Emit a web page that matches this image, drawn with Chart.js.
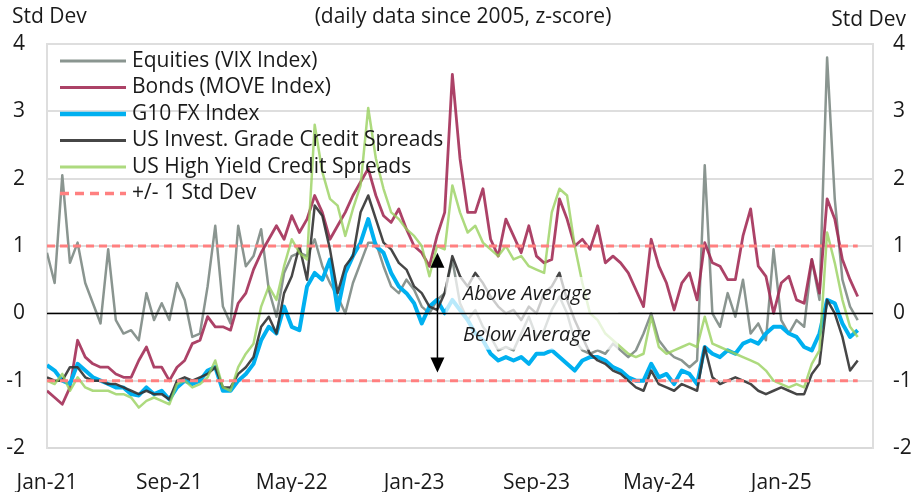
<!DOCTYPE html>
<html>
<head>
<meta charset="utf-8">
<script src="https://cdn.jsdelivr.net/npm/chart.js@4.4.1/dist/chart.umd.min.js"></script>
<style>
  html, body { margin: 0; padding: 0; background: #fff; }
  #wrap { width: 913px; height: 492px; }
</style>
</head>
<body>
<div id="wrap"><canvas id="chart" width="913" height="492"></canvas></div>
<script>
// x = half-month steps since Jan-21 (0 = 1 Jan 2021, 108 = 1 Jul 2025)
const tickPos = [0, 16, 32, 48, 64, 80, 96];
const tickLabels = ["Jan-21", "Sep-21", "May-22", "Jan-23", "Sep-23", "May-24", "Jan-25"];

// z-scores, one value per half month (Jan-21 .. mid Jun-25)
const vix = [
  0.9, 0.45, 2.05, 0.75, 1.05, 0.45, 0.15, -0.15, 0.95, -0.1, -0.3, -0.25, -0.4, 0.3, -0.1, 0.15, -0.1, 0.45, 0.2, -0.35, -0.3, 0.4, 1.3, 0.1,
  -0.15, 1.3, 0.7, 0.85, 1.25, 0.35, -0.05, 0.6, 0.85, 0.9, 0.85, 1.1, 0.7, 0.45, 0.25, 0.0, 0.45, 0.75, 1.05, 1.05, 0.7, 0.4, 0.3, 0.5,
  0.35, 0.1, 0.0, 0.2, 0.3, 0.8, 0.15, -0.1, 0.05, -0.2, -0.35, -0.55, -0.5, -0.55, -0.3, -0.05, -0.35, -0.25, 0.05, 0.25, 0.0, -0.4, -0.55, -0.6,
  -0.55, -0.6, -0.45, -0.55, -0.65, -0.55, -0.3, 0.0, -0.4, -0.55, -0.65, -0.7, -0.8, -0.7, 2.2, 0.0, -0.2, 0.3, -0.05, 0.5, -0.3, -0.15, -0.4, 0.95,
  -0.1, -0.3, -0.1, -0.2, 0.8, 0.2, 3.8, 1.7, 0.5, 0.1, -0.1
];
const move = [
  -1.15, -1.25, -1.35, -1.1, -0.4, -0.65, -0.75, -0.8, -0.8, -0.9, -0.95, -0.95, -0.7, -0.5, -0.8, -0.8, -1.0, -0.8, -0.7, -0.45, -0.4, -0.05, -0.2, -0.2,
  -0.25, 0.15, 0.3, 0.65, 0.9, 1.1, 1.3, 1.1, 1.45, 1.2, 1.4, 1.75, 1.5, 1.1, 1.3, 1.5, 1.75, 1.95, 2.15, 1.75, 1.45, 1.35, 1.55, 1.25,
  1.0, 0.9, 0.7, 1.15, 1.5, 3.55, 2.3, 1.5, 1.5, 1.85, 1.1, 0.85, 1.4, 1.15, 0.9, 1.3, 0.85, 0.75, 0.8, 1.7, 1.4, 1.0, 1.1, 0.95,
  1.3, 0.75, 0.85, 0.75, 0.6, 0.35, 0.1, 1.1, 0.7, 0.45, 0.05, 0.45, 0.6, 0.2, 1.05, 0.75, 0.7, 0.5, 0.5, 1.15, 1.55, 0.7, 0.55, 0.0,
  0.45, 0.55, 0.2, 0.15, 0.8, 0.3, 1.7, 1.4, 0.8, 0.5, 0.25
];
const fx = [
  -0.77, -0.85, -1.0, -1.05, -0.75, -0.85, -0.95, -1.0, -1.05, -1.1, -1.1, -1.2, -1.22, -1.1, -1.2, -1.15, -1.28, -1.1, -1.0, -1.05, -1.0, -0.85, -0.8, -1.15,
  -1.15, -1.0, -0.9, -0.75, -0.4, -0.2, -0.3, 0.1, -0.2, -0.25, 0.4, 0.6, 0.5, 0.8, 0.05, 0.6, 0.85, 1.05, 1.4, 1.0, 0.9, 0.6, 0.4, 0.3,
  0.15, -0.15, 0.1, 0.2, 0.0, 0.2, 0.05, -0.1, -0.3, -0.4, -0.6, -0.7, -0.65, -0.7, -0.65, -0.75, -0.6, -0.6, -0.55, -0.65, -0.75, -0.85, -0.7, -0.65,
  -0.65, -0.7, -0.8, -0.85, -0.95, -1.0, -1.0, -0.75, -0.95, -0.9, -1.05, -0.85, -0.9, -1.05, -0.5, -0.6, -0.65, -0.55, -0.6, -0.45, -0.4, -0.45, -0.3, -0.2,
  -0.2, -0.3, -0.35, -0.5, -0.55, -0.3, 0.2, 0.15, -0.15, -0.35, -0.25
];
const ig = [
  -0.95, -1.0, -1.0, -0.8, -0.8, -0.95, -1.0, -1.0, -1.05, -1.05, -1.1, -1.15, -1.2, -1.15, -1.2, -1.2, -1.28, -1.0, -0.95, -1.0, -0.95, -0.9, -0.8, -1.1,
  -1.1, -0.9, -0.8, -0.65, -0.2, -0.05, -0.3, 0.3, 0.55, 1.0, 0.5, 1.6, 1.45, 0.95, 0.3, 0.7, 0.85, 1.5, 1.75, 1.4, 1.05, 0.95, 0.75, 0.65,
  0.4, 0.3, 0.1, 0.05, 0.3, 0.85, 0.55, 0.4, 0.6, 0.45, 0.25, 0.1, 0.0, 0.05, -0.1, 0.1, 0.0, 0.3, 0.4, 0.6, 0.2, -0.1, -0.35, -0.6,
  -0.7, -0.75, -0.85, -0.9, -1.0, -1.1, -1.15, -0.85, -1.05, -1.1, -1.15, -1.05, -1.1, -1.15, -0.5, -0.95, -1.05, -1.0, -0.95, -1.0, -1.05, -1.15, -1.2, -1.15,
  -1.1, -1.15, -1.2, -1.2, -0.9, -0.75, 0.2, 0.0, -0.35, -0.85, -0.7
];
const hy = [
  -1.0, -1.05, -0.9, -1.15, -0.95, -1.1, -1.15, -1.15, -1.15, -1.2, -1.2, -1.25, -1.4, -1.3, -1.25, -1.3, -1.35, -1.05, -1.0, -1.1, -1.05, -0.95, -0.7, -1.1,
  -1.15, -0.8, -0.6, -0.45, 0.1, 0.4, 0.2, 0.7, 1.1, 0.9, 0.8, 2.8, 2.1, 1.7, 1.6, 1.15, 1.55, 1.9, 3.05, 2.3, 1.85, 1.5, 1.4, 1.25,
  1.15, 1.0, 0.55, 1.0, 0.95, 1.9, 1.5, 1.2, 1.3, 1.05, 0.95, 0.85, 1.0, 0.8, 0.85, 0.7, 0.65, 0.6, 1.5, 1.85, 1.75, 1.0, 0.45, 0.0,
  -0.1, -0.3, -0.4, -0.5, -0.6, -0.65, -0.6, -0.05, -0.5, -0.6, -0.55, -0.5, -0.45, -0.5, -0.05, -0.45, -0.5, -0.55, -0.6, -0.65, -0.7, -0.75, -0.85, -1.0,
  -1.05, -1.1, -1.05, -1.1, -0.75, -0.55, 1.2, 0.75, 0.2, -0.2, -0.35
];
const bandHi = vix.map(() => 1);
const bandLo = vix.map(() => -1);

// annotation placement in data units
const boxX = [52.1, 74.7];
const boxY = [-0.54, 0.54];
const arrowX = 51.05;
const arrowY = [-0.88, 0.9];
const noteX = 54.4;

const FONT = "'Open Sans'";
const pts = arr => arr.map((v, i) => ({ x: i, y: v }));

const overlay = {
  id: "overlay",
  afterDatasetsDraw(chart) {
    const { ctx, chartArea: a, scales } = chart;
    const x = scales.x, y = scales.y;
    ctx.save();

    // faded box behind the above/below labels
    const bx0 = x.getPixelForValue(boxX[0]), bx1 = x.getPixelForValue(boxX[1]);
    const by0 = y.getPixelForValue(boxY[1]), by1 = y.getPixelForValue(boxY[0]);
    ctx.fillStyle = "rgba(255,255,255,0.72)";
    ctx.fillRect(bx0, by0, bx1 - bx0, by1 - by0);

    // zero line
    const y0 = Math.round(y.getPixelForValue(0)) + 0.5;
    ctx.strokeStyle = "#000";
    ctx.lineWidth = 1.5;
    ctx.beginPath();
    ctx.moveTo(a.left, y0);
    ctx.lineTo(a.right, y0);
    ctx.stroke();

    // double arrow
    const ax = x.getPixelForValue(arrowX);
    const top = y.getPixelForValue(arrowY[1]), bot = y.getPixelForValue(arrowY[0]);
    ctx.lineWidth = 1.5;
    ctx.beginPath();
    ctx.moveTo(ax, top + 12);
    ctx.lineTo(ax, bot - 12);
    ctx.stroke();
    ctx.fillStyle = "#000";
    ctx.beginPath();
    ctx.moveTo(ax, top);
    ctx.lineTo(ax - 7, top + 15);
    ctx.lineTo(ax + 7, top + 15);
    ctx.closePath();
    ctx.fill();
    ctx.beginPath();
    ctx.moveTo(ax, bot);
    ctx.lineTo(ax - 7, bot - 15);
    ctx.lineTo(ax + 7, bot - 15);
    ctx.closePath();
    ctx.fill();

    // labels
    ctx.fillStyle = "#1a1a1a";
    ctx.font = "italic 20px " + FONT;
    ctx.textAlign = "left";
    ctx.textBaseline = "middle";
    const nx = x.getPixelForValue(noteX);
    ctx.fillText("Above Average", nx, y.getPixelForValue(0.28));
    ctx.fillText("Below Average", nx, y.getPixelForValue(-0.33));

    // legend inside the plot
    ctx.font = "21px " + FONT;
    let ly = a.top + 17;
    chart.data.datasets.forEach(ds => {
      if (ds.noLegend) return;
      ctx.strokeStyle = ds.borderColor;
      ctx.lineWidth = ds.legendWidth || ds.borderWidth;
      ctx.setLineDash(ds.borderDash ? [9, 6] : []);
      ctx.beginPath();
      ctx.moveTo(a.left + 13, ly);
      ctx.lineTo(a.left + 79, ly);
      ctx.stroke();
      ctx.setLineDash([]);
      ctx.fillStyle = "#1a1a1a";
      ctx.fillText(ds.label, a.left + 85, ly);
      ly += 26.5;
    });
    ctx.restore();
  },
  afterDraw(chart) {
    const { ctx } = chart;
    ctx.save();
    ctx.fillStyle = "#1a1a1a";
    ctx.font = "21px " + FONT;
    ctx.textBaseline = "middle";
    ctx.textAlign = "left";
    ctx.fillText("Std Dev", 12, 17);
    ctx.textAlign = "center";
    ctx.fillText("(daily data since 2005, z-score)", 463, 17);
    ctx.textAlign = "right";
    ctx.fillText("Std Dev", 906, 20);
    ctx.restore();
  }
};

Chart.defaults.font.family = FONT;
Chart.defaults.font.size = 21;
Chart.defaults.color = "#1a1a1a";

new Chart(document.getElementById("chart"), {
  type: "line",
  data: {
    datasets: [
      { label: "Equities (VIX Index)", data: pts(vix), borderColor: "#8a9590", borderWidth: 2.5, legendWidth: 3, order: 6 },
      { label: "Bonds (MOVE Index)", data: pts(move), borderColor: "rgba(160,40,82,0.88)", borderWidth: 2.8, legendWidth: 3, order: 5 },
      { label: "G10 FX Index", data: pts(fx), borderColor: "#00b0f0", borderWidth: 4, legendWidth: 4.5, order: 4 },
      { label: "US Invest. Grade Credit Spreads", data: pts(ig), borderColor: "rgba(50,50,50,0.9)", borderWidth: 2.5, legendWidth: 3, order: 3 },
      { label: "US High Yield Credit Spreads", data: pts(hy), borderColor: "rgba(150,208,90,0.78)", borderWidth: 2.5, legendWidth: 3, order: 2 },
      { label: "+/- 1 Std Dev", data: pts(bandHi), borderColor: "#ff8080", borderWidth: 3, borderDash: [8, 5], legendWidth: 3.5, order: 1 },
      { label: "-1 Std Dev", data: pts(bandLo), borderColor: "#ff8080", borderWidth: 3, borderDash: [8, 5], order: 1, noLegend: true }
    ]
  },
  options: {
    responsive: false,
    animation: false,
    events: [],
    layout: { padding: { top: 44, left: 0, right: 0, bottom: 0 } },
    elements: { point: { radius: 0 }, line: { tension: 0, borderJoinStyle: "round" } },
    plugins: { legend: { display: false }, tooltip: { enabled: false } },
    scales: {
      x: {
        type: "linear",
        min: 0,
        max: 108,
        grid: { display: false },
        border: { color: "#d9d9d9", width: 2 },
        afterBuildTicks: axis => { axis.ticks = tickPos.map(v => ({ value: v })); },
        afterFit: axis => { axis.height = 44; },
        ticks: {
          padding: 14,
          maxRotation: 0,
          autoSkip: false,
          callback: v => tickLabels[tickPos.indexOf(v)]
        }
      },
      y: {
        position: "left",
        min: -2,
        max: 4,
        afterFit: axis => { axis.width = 47; },
        grid: { color: "#dedede", lineWidth: 2, drawTicks: false },
        border: { color: "#dedede", width: 2 },
        ticks: { stepSize: 1, padding: 22 }
      },
      y2: {
        position: "right",
        min: -2,
        max: 4,
        afterFit: axis => { axis.width = 40; },
        grid: { display: false, drawTicks: false },
        border: { color: "#dedede", width: 2 },
        ticks: { stepSize: 1, padding: 20 }
      }
    }
  },
  plugins: [overlay]
});
</script>
</body>
</html>
